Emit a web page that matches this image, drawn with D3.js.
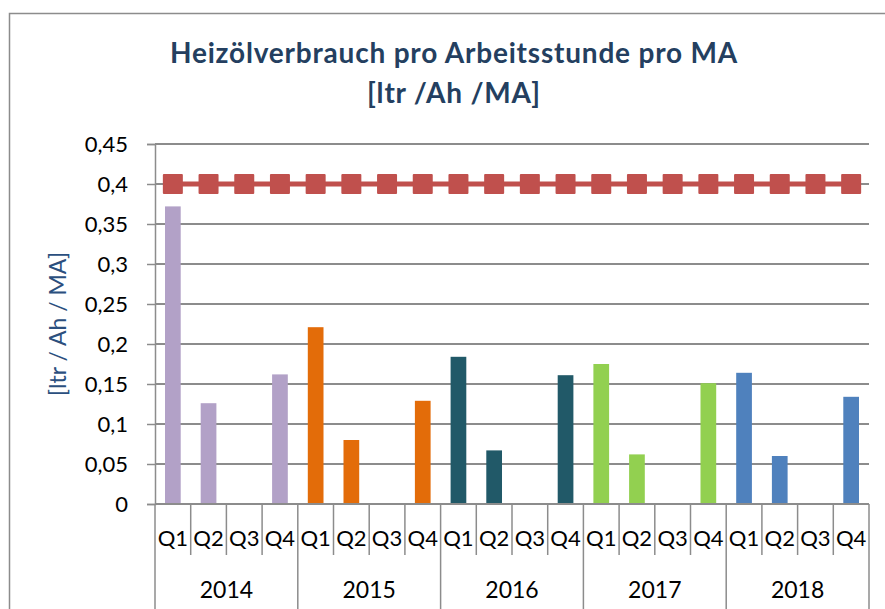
<!DOCTYPE html>
<html>
<head>
<meta charset="utf-8">
<script src="https://cdn.jsdelivr.net/npm/d3@7"></script>
<style>
  body { margin: 0; background: #fff; }
  text { font-family: Lato, "Open Sans", sans-serif; }
</style>
</head>
<body>
<div id="wrapper"></div>
<script>
// data
const years = ["2014", "2015", "2016", "2017", "2018"]
const quarters = ["Q1", "Q2", "Q3", "Q4"]
const consumption = [
  0.372, 0.126, 0, 0.162,
  0.221, 0.080, 0, 0.129,
  0.184, 0.067, 0, 0.161,
  0.175, 0.062, 0, 0.151,
  0.164, 0.060, 0, 0.134,
]
const target = 0.4
const yearColors = ["#B2A1C7", "#E36C09", "#215968", "#92D050", "#4F81BD"]
const yTicks = [0, 0.05, 0.1, 0.15, 0.2, 0.25, 0.3, 0.35, 0.4, 0.45]

function drawChart() {
  const dimensions = {
    width: 885,
    height: 609,
    margin: { top: 144, right: 16, bottom: 105, left: 155 },
  }
  dimensions.boundedWidth = dimensions.width - dimensions.margin.left - dimensions.margin.right
  dimensions.boundedHeight = dimensions.height - dimensions.margin.top - dimensions.margin.bottom

  const rows = []
  years.forEach((y, i) => quarters.forEach((q, j) => {
    rows.push({ key: y + "-" + q, year: y, yearIndex: i, quarter: q, value: consumption[i * 4 + j] })
  }))

  const wrapper = d3.select("#wrapper").append("svg")
      .attr("width", dimensions.width)
      .attr("height", dimensions.height)

  // outer chart frame
  wrapper.append("rect")
      .attr("x", 9.5).attr("y", 13.5)
      .attr("width", 950).attr("height", 700)
      .attr("fill", "none")
      .attr("stroke", "#8c8c8c")
      .attr("stroke-width", 1.5)

  const bounds = wrapper.append("g")
      .attr("transform", `translate(${dimensions.margin.left},${dimensions.margin.top})`)

  const xScale = d3.scaleBand()
    .domain(rows.map(d => d.key))
    .range([0, dimensions.boundedWidth])
    .paddingInner(0.56)
    .paddingOuter(0.28)

  const yScale = d3.scaleLinear()
    .domain([0, 0.45])
    .range([dimensions.boundedHeight, 0])

  const fmt = d => d3.format("")(d).replace(".", ",")

  // gridlines + y axis
  const yAxis = bounds.append("g")
    .call(d3.axisLeft(yScale).tickValues(yTicks).tickFormat(fmt).tickSize(8).tickPadding(19))
  yAxis.select(".domain").attr("stroke", "#8c8c8c").attr("stroke-width", 1.5)
  yAxis.selectAll(".tick line").attr("stroke", "#8c8c8c").attr("stroke-width", 1.5)
  yAxis.selectAll(".tick text").attr("fill", "#000").style("font-size", "22px")

  bounds.append("g")
    .selectAll("line")
    .data(yTicks.filter(d => d > 0))
    .join("line")
      .attr("x1", 0).attr("x2", dimensions.boundedWidth)
      .attr("y1", d => yScale(d)).attr("y2", d => yScale(d))
      .attr("stroke", "#8c8c8c")
      .attr("stroke-width", 2)

  // bars
  bounds.append("g")
    .selectAll("rect")
    .data(rows)
    .join("rect")
      .attr("x", d => xScale(d.key))
      .attr("y", d => yScale(d.value))
      .attr("width", xScale.bandwidth())
      .attr("height", d => dimensions.boundedHeight - yScale(d.value))
      .attr("fill", d => yearColors[d.yearIndex])

  // x axis (two-level categories)
  const step = xScale.step()
  const xAxis = bounds.append("g")
      .attr("transform", `translate(0,${dimensions.boundedHeight})`)
  xAxis.append("line")
      .attr("x1", 0).attr("x2", dimensions.boundedWidth)
      .attr("stroke", "#8c8c8c").attr("stroke-width", 2)
  xAxis.selectAll(".sep")
    .data(d3.range(rows.length + 1))
    .join("line")
      .attr("class", "sep")
      .attr("x1", i => i * step).attr("x2", i => i * step)
      .attr("y1", 0)
      .attr("y2", i => i % 4 === 0 ? 110 : 51)
      .attr("stroke", "#8c8c8c").attr("stroke-width", 1.5)
  xAxis.selectAll(".q")
    .data(rows)
    .join("text")
      .attr("class", "q")
      .attr("x", d => xScale(d.key) + xScale.bandwidth() / 2)
      .attr("y", 34)
      .attr("dy", "0.35em")
      .attr("text-anchor", "middle")
      .style("font-size", "22px")
      .text(d => d.quarter)
  xAxis.selectAll(".yr")
    .data(years)
    .join("text")
      .attr("class", "yr")
      .attr("x", (d, i) => (i * 4 + 2) * step)
      .attr("y", 86)
      .attr("dy", "0.35em")
      .attr("text-anchor", "middle")
      .style("font-size", "23px")
      .text(d => d)

  // target line
  const center = d => xScale(d.key) + xScale.bandwidth() / 2
  bounds.append("path")
      .datum(rows)
      .attr("fill", "none")
      .attr("stroke", "#C0504D")
      .attr("stroke-width", 5)
      .attr("d", d3.line().x(center).y(() => yScale(target)))
  bounds.append("g")
    .selectAll("rect")
    .data(rows)
    .join("rect")
      .attr("x", d => center(d) - 10)
      .attr("y", yScale(target) - 10)
      .attr("width", 20).attr("height", 20)
      .attr("rx", 1)
      .attr("fill", "#C0504D")

  // titles
  const title = wrapper.append("text")
      .attr("x", 454)
      .attr("text-anchor", "middle")
      .attr("fill", "#243F60")
      .style("font-weight", "bold")
      .style("font-size", "28px")
      .style("letter-spacing", "0.8px")
  title.append("tspan").attr("x", 454).attr("y", 63).text("Heizölverbrauch pro Arbeitsstunde pro MA")
  title.append("tspan").attr("x", 454).attr("y", 103).text("[ltr /Ah /MA]")

  wrapper.append("text")
      .attr("transform", "translate(58,324) rotate(-90)")
      .attr("text-anchor", "middle")
      .attr("dy", "0.35em")
      .attr("fill", "#2B4F7E")
      .style("font-size", "23px")
      .text("[ltr / Ah / MA]")
}

drawChart()
</script>
</body>
</html>
